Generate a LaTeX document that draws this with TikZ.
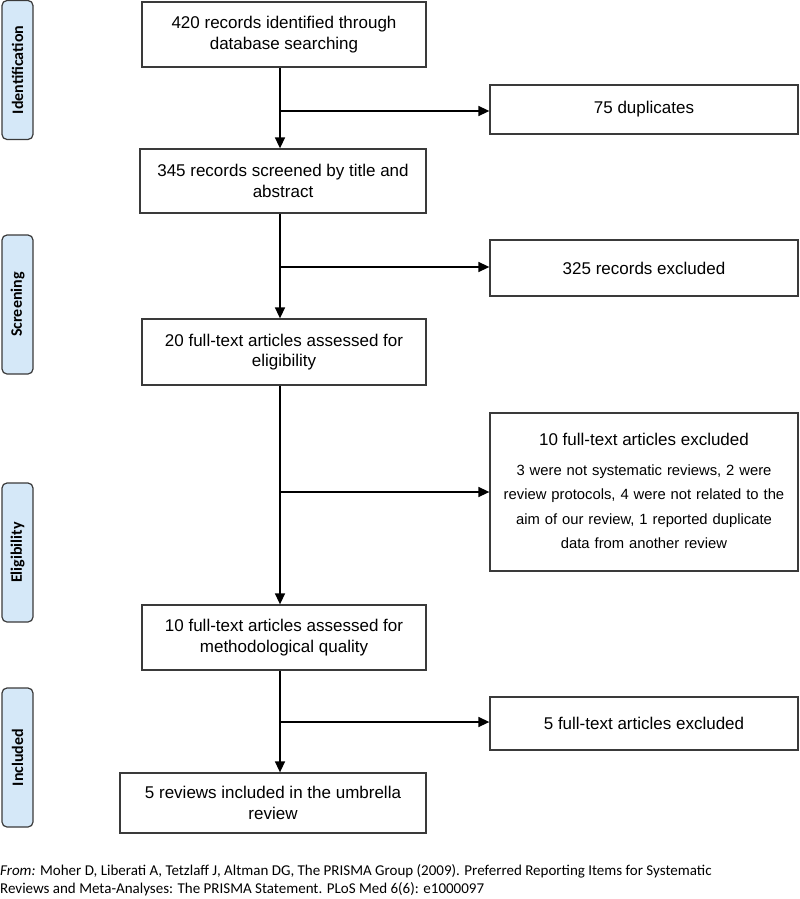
\documentclass[tikz,border=0pt]{standalone}
\usepackage{fontspec}
\setmainfont{Liberation Sans}
\newfontfamily\calib{Carlito}
\usetikzlibrary{arrows.meta,calc}
\definecolor{sidefill}{HTML}{D5E8F8}
\definecolor{edge}{HTML}{3A3A3A}
\tikzset{
  mainbox/.style={draw=edge, line width=1.3pt, rectangle, inner sep=0pt, align=center, font=\fontsize{17}{20.5}\selectfont},
  sidebox/.style={draw=edge, line width=1.2pt, fill=sidefill, rounded corners=5pt, inner sep=0pt, minimum width=31pt, minimum height=139pt},
  sidetext/.style={rotate=90, font=\calib\bfseries\fontsize{16}{18}\selectfont},
  arr/.style={line width=1.5pt, -{Triangle[length=11pt,width=10pt]}},
  plain/.style={line width=1.5pt}
}
\begin{document}
\begin{tikzpicture}[x=1pt,y=-1pt]
\useasboundingbox (0,0) rectangle (800,899);
% side labels
\node[sidebox] (s1) at (17.5,70) {};
\node[sidetext] at (s1) {Identification};
\node[sidebox] (s2) at (17.5,304.5) {};
\node[sidetext] at (s2) {Screening};
\node[sidebox] (s3) at (17.5,552.5) {};
\node[sidetext] at (s3) {Eligibility};
\node[sidebox] (s4) at (17.5,757.5) {};
\node[sidetext] at (s4) {Included};
% main boxes
\node[mainbox, minimum width=284pt, minimum height=65pt] (b1) at (284,34.5) {420 records identified through\\database searching};
\node[mainbox, minimum width=286pt, minimum height=64pt] (b2) at (283,181) {345 records screened by title and\\abstract};
\node[mainbox, minimum width=284pt, minimum height=66pt] (b3) at (284,352) {20 full-text articles assessed for\\eligibility};
\node[mainbox, minimum width=284pt, minimum height=65pt] (b4) at (284,637.5) {10 full-text articles assessed for\\methodological quality};
\node[mainbox, minimum width=306pt, minimum height=60pt] (b5) at (273,803) {5 reviews included in the umbrella\\review};
% side boxes
\node[mainbox, minimum width=308pt, minimum height=49pt] (d1) at (644,109.5) {75 duplicates};
\node[mainbox, minimum width=308pt, minimum height=56pt] (d2) at (644,268) {325 records excluded};
\node[mainbox, minimum width=308pt, minimum height=158pt] (d3) at (644,492) {};
\node[align=center, font=\fontsize{17}{20}\selectfont, anchor=base] (d3t) at (644,445) {10 full-text articles excluded};
\node[align=center, text width=304pt, font=\fontsize{14.8}{24.5}\selectfont, anchor=north] (d3b) at (644,461) {3 were not systematic reviews, 2 were\\review protocols, 4 were not related to the\\aim of our review, 1 reported duplicate\\data from another review};
\node[mainbox, minimum width=308pt, minimum height=53pt] (d4) at (644,723.5) {5 full-text articles excluded};
% spine coordinates
\coordinate (c1) at (280,111);
\coordinate (c2) at (280,267);
\coordinate (c3) at (280,492);
\coordinate (c4) at (280,722);
% vertical arrows
\draw[arr] (b1.south -| c1) -- (b2.north -| c1);
\draw[arr] (b2.south -| c2) -- (b3.north -| c2);
\draw[arr] (b3.south -| c3) -- (b4.north -| c3);
\draw[arr] (b4.south -| c4) -- (b5.north -| c4);
% branch arrows
\draw[arr] (c1) -- (c1 -| d1.west);
\draw[arr] (c2) -- (c2 -| d2.west);
\draw[arr] (c3) -- (c3 -| d3.west);
\draw[arr] (c4) -- (c4 -| d4.west);
% citation
\node[anchor=north west, inner sep=0pt, align=left, font=\calib\fontsize{15}{18}\selectfont] (cite) at (0,864) {\textit{From:} Moher D, Liberati A, Tetzlaff J, Altman DG, The PRISMA Group (2009). Preferred Reporting Items for Systematic\\Reviews and Meta-Analyses: The PRISMA Statement. PLoS Med 6(6): e1000097};
\end{tikzpicture}
\end{document}
